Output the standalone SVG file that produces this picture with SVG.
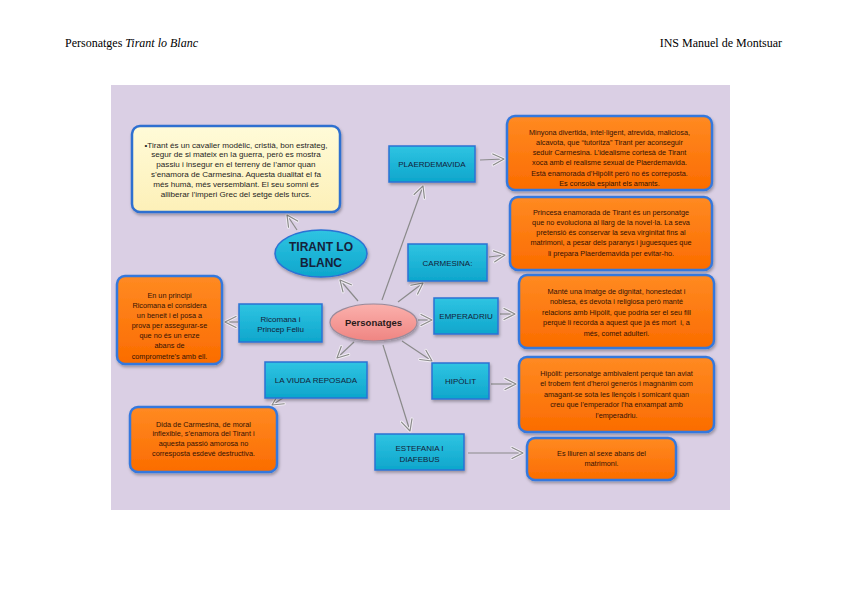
<svg xmlns="http://www.w3.org/2000/svg" width="848" height="600" viewBox="0 0 848 600">
<defs>
<linearGradient id="cy" x1="0" y1="0" x2="0" y2="1"><stop offset="0" stop-color="#2fc4e2"/><stop offset="1" stop-color="#0ea6cc"/></linearGradient>
<linearGradient id="or" x1="0" y1="0" x2="0" y2="1"><stop offset="0" stop-color="#ff8a22"/><stop offset="1" stop-color="#fb6c00"/></linearGradient>
<linearGradient id="pk" x1="0" y1="0" x2="0" y2="1"><stop offset="0" stop-color="#fbb0ac"/><stop offset="1" stop-color="#ef8582"/></linearGradient>
<linearGradient id="yl" x1="0" y1="0" x2="0" y2="1"><stop offset="0" stop-color="#fffbd8"/><stop offset="1" stop-color="#fdf0b8"/></linearGradient>
<filter id="sh" x="-10%" y="-10%" width="130%" height="140%"><feDropShadow dx="1" dy="2" stdDeviation="1.5" flood-color="#000" flood-opacity="0.3"/></filter>
<marker id="ah" markerUnits="userSpaceOnUse" markerWidth="16" markerHeight="16" refX="13" refY="8" orient="auto" viewBox="0 0 16 16">
<path d="M2,2.5 L13,8 L2,13.5" fill="none" stroke="#f2eef5" stroke-width="3" stroke-linejoin="round" stroke-linecap="round"/>
<path d="M2,2.5 L13,8 L2,13.5" fill="none" stroke="#8a8a8a" stroke-width="1.2" stroke-linejoin="round" stroke-linecap="round"/>
</marker>
</defs>
<style>
.hd{font-family:"Liberation Serif","Times New Roman",serif;font-size:12px;fill:#000}
.cb{fill:url(#cy);stroke:#2b72d4;stroke-width:1.5;filter:url(#sh)}
.ob{fill:url(#or);stroke:#3578dd;stroke-width:2.5;filter:url(#sh)}
.yb{fill:url(#yl);stroke:#2f6fd0;stroke-width:2.5;filter:url(#sh)}
.ct{font-family:"Liberation Sans",Arial,sans-serif;font-size:8px;fill:#142238;text-anchor:middle}
.ot{font-family:"Liberation Sans",Arial,sans-serif;font-size:7.3px;fill:#331204;text-anchor:middle}
.yt{font-family:"Liberation Sans",Arial,sans-serif;font-size:8.1px;fill:#1e1e1e;text-anchor:middle}
.cn line{stroke:#8a8a8a;stroke-width:1.2;fill:none;marker-end:url(#ah)}
</style>
<rect width="848" height="600" fill="#fff"/>
<text class="hd" x="65" y="47">Personatges <tspan font-style="italic">Tirant lo Blanc</tspan></text>
<text class="hd" x="782" y="47" text-anchor="end">INS Manuel de Montsuar</text>
<rect x="111" y="85" width="619" height="425" fill="#dacfe4"/>

<g class="cn" id="connectors">
<line x1="297" y1="230" x2="287" y2="215"/>
<line x1="358" y1="301" x2="340" y2="280"/>
<line x1="382" y1="300" x2="423" y2="186"/>
<line x1="398" y1="302" x2="423" y2="283"/>
<line x1="418" y1="320" x2="432" y2="320"/>
<line x1="402" y1="341" x2="432" y2="361"/>
<line x1="383" y1="345" x2="410" y2="431"/>
<line x1="354" y1="342" x2="337" y2="358"/>
<line x1="238" y1="322" x2="225" y2="322"/>
<line x1="283" y1="398" x2="272" y2="405"/>
<line x1="480" y1="160" x2="504" y2="159"/>
<line x1="489" y1="257" x2="505" y2="255"/>
<line x1="500" y1="314" x2="515" y2="314"/>
<line x1="491" y1="384" x2="516" y2="384"/>
<line x1="468" y1="453" x2="523" y2="453"/>
</g>

<g id="tirant-desc">
<rect class="yb" x="132" y="126" width="208" height="86" rx="8"/>
<text class="yt" x="236" y="147.5">•Tirant és un cavaller modèlic, cristià, bon estrateg,</text>
<text class="yt" x="236" y="157.3">segur de si mateix en la guerra, però es mostra</text>
<text class="yt" x="236" y="167.1">passiu i insegur en el terreny de l’amor quan</text>
<text class="yt" x="236" y="176.9">s’enamora de Carmesina. Aquesta dualitat el fa</text>
<text class="yt" x="236" y="186.7">més humà, més versemblant. El seu somni és</text>
<text class="yt" x="236" y="196.5">alliberar l’imperi Grec del setge dels turcs.</text>
</g>

<g id="tirant">
<ellipse cx="321" cy="253.5" rx="46" ry="23.5" fill="url(#cy)" stroke="#2b72d4" stroke-width="1.5" filter="url(#sh)"/>
<text x="321" y="251" font-family="'Liberation Sans',Arial,sans-serif" font-size="12" font-weight="bold" fill="#15213a" text-anchor="middle">TIRANT LO</text>
<text x="321" y="267" font-family="'Liberation Sans',Arial,sans-serif" font-size="12" font-weight="bold" fill="#15213a" text-anchor="middle">BLANC</text>
</g>

<g id="personatges">
<ellipse cx="373.5" cy="322.5" rx="43.5" ry="18.5" fill="url(#pk)" stroke="#9a8a9a" stroke-width="1.2" filter="url(#sh)"/>
<text x="373.5" y="326" font-family="'Liberation Sans',Arial,sans-serif" font-size="9.5" font-weight="bold" fill="#2a1a1a" text-anchor="middle">Personatges</text>
</g>

<g id="plaerdemavida">
<rect class="cb" x="389" y="146" width="86" height="36"/>
<text class="ct" x="432" y="167">PLAERDEMAVIDA</text>
</g>
<g id="plaerdemavida-desc">
<rect class="ob" x="507" y="116" width="205" height="74" rx="8"/>
<text class="ot" x="609.5" y="134.5">Minyona divertida, intel·ligent, atrevida, maliciosa,</text>
<text class="ot" x="609.5" y="144.8">alcavota, que “tutoritza” Tirant per aconseguir</text>
<text class="ot" x="609.5" y="155.1">seduir Carmesina. L’idealisme cortesà de Tirant</text>
<text class="ot" x="609.5" y="165.4">xoca amb el realisme sexual de Plaerdemavida.</text>
<text class="ot" x="609.5" y="175.7">Està enamorada d’Hipòlit però no és correposta.</text>
<text class="ot" x="609.5" y="186">Es consola espiant els amants.</text>
</g>

<g id="carmesina">
<rect class="cb" x="408" y="244" width="79" height="37"/>
<text class="ct" x="447.5" y="265.5">CARMESINA:</text>
</g>
<g id="carmesina-desc">
<rect class="ob" x="510" y="197" width="202" height="73" rx="8"/>
<text class="ot" x="611" y="214.5">Princesa enamorada de Tirant és un personatge</text>
<text class="ot" x="611" y="224.8">que no evoluciona al llarg de la novel·la. La seva</text>
<text class="ot" x="611" y="235.1">pretensió és conservar la seva virginitat fins al</text>
<text class="ot" x="611" y="245.4">matrimoni, a pesar dels paranys i juguesques que</text>
<text class="ot" x="611" y="255.7">li prepara Plaerdemavida per evitar-ho.</text>
</g>

<g id="emperadriu">
<rect class="cb" x="434" y="298" width="64" height="36"/>
<text class="ct" x="466" y="319">EMPERADRIU</text>
</g>
<g id="emperadriu-desc">
<rect class="ob" x="519" y="275" width="195" height="73" rx="8"/>
<text class="ot" x="616.5" y="293.5">Manté una imatge de dignitat, honestedat i</text>
<text class="ot" x="616.5" y="304">noblesa, és devota i religiosa però manté</text>
<text class="ot" x="616.5" y="314.5">relacions amb Hipòlit, que podria ser el seu fill</text>
<text class="ot" x="616.5" y="325" xml:space="preserve">perquè li recorda a aquest que ja és mort  i, a</text>
<text class="ot" x="616.5" y="335.5">més, comet adulteri.</text>
</g>

<g id="hipolit">
<rect class="cb" x="432" y="363" width="57" height="36"/>
<text class="ct" x="460.5" y="384">HIPÒLIT</text>
</g>
<g id="hipolit-desc">
<rect class="ob" x="519" y="357" width="195" height="75" rx="8"/>
<text class="ot" x="616.5" y="375.5">Hipòlit: personatge ambivalent perquè tan aviat</text>
<text class="ot" x="616.5" y="386">el trobem fent d’heroi generós i magnànim com</text>
<text class="ot" x="616.5" y="396.5">amagant-se sota les llençols i somicant quan</text>
<text class="ot" x="616.5" y="407">creu que l’emperador l’ha enxampat amb</text>
<text class="ot" x="616.5" y="417.5">l’emperadriu.</text>
</g>

<g id="estefania">
<rect class="cb" x="375" y="434" width="89" height="36"/>
<text class="ct" x="419.5" y="451">ESTEFANIA I</text>
<text class="ct" x="419.5" y="462">DIAFEBUS</text>
</g>
<g id="estefania-desc">
<rect class="ob" x="527" y="438" width="149" height="42" rx="8"/>
<text class="ot" x="601.5" y="455.5">Es lliuren al sexe abans del</text>
<text class="ot" x="601.5" y="465.5">matrimoni.</text>
</g>

<g id="ricomana">
<rect class="cb" x="239" y="304" width="83" height="38"/>
<text class="ct" x="280.5" y="322">Ricomana i</text>
<text class="ct" x="280.5" y="332">Princep Feliu</text>
</g>
<g id="ricomana-desc">
<rect class="ob" x="117" y="276" width="105" height="88" rx="8"/>
<text class="ot" font-size="7.8" x="169.5" y="298">En un principi</text>
<text class="ot" font-size="7.8" x="169.5" y="308">Ricomana el considera</text>
<text class="ot" font-size="7.8" x="169.5" y="318">un beneit i el posa a</text>
<text class="ot" font-size="7.8" x="169.5" y="328">prova per assegurar-se</text>
<text class="ot" font-size="7.8" x="169.5" y="338">que no és un enze</text>
<text class="ot" font-size="7.8" x="169.5" y="348">abans de</text>
<text class="ot" font-size="7.8" x="169.5" y="358.5">comprometre’s amb ell.</text>
</g>

<g id="viuda">
<rect class="cb" x="265" y="362" width="102" height="36"/>
<text class="ct" x="316" y="383">LA VIUDA REPOSADA</text>
</g>
<g id="viuda-desc">
<rect class="ob" x="130" y="407" width="147" height="65" rx="8"/>
<text class="ot" x="203.5" y="426.5">Dida de Carmesina, de moral</text>
<text class="ot" x="203.5" y="436.3">inflexible, s’enamora del Tirant i</text>
<text class="ot" x="203.5" y="446.1">aquesta passió amorosa no</text>
<text class="ot" x="203.5" y="455.9">corresposta esdevé destructiva.</text>
</g>
</svg>
